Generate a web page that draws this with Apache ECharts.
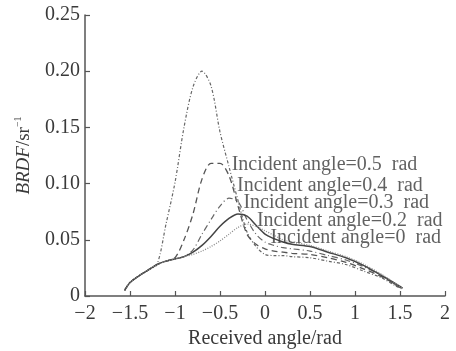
<!DOCTYPE html>
<html>
<head>
<meta charset="utf-8">
<script src="https://cdn.jsdelivr.net/npm/echarts@6/dist/echarts.min.js"></script>
<style>
  html, body { margin: 0; padding: 0; background: #fff; }
  #chart { width: 456px; height: 351px; }
</style>
</head>
<body>
<div id="chart"></div>
<script>
// received angle (rad) for every sampled point
const angles = [-1.56, -1.5, -1.4, -1.3, -1.2, -1.1, -1.0, -0.9, -0.8, -0.7, -0.6, -0.5, -0.4, -0.3, -0.2, -0.1, 0, 0.1, 0.2, 0.3, 0.5, 0.7, 0.9, 1.1, 1.3, 1.45, 1.53];

// BRDF values per incident angle
const brdf05 = [0.005, 0.012, 0.018, 0.023, 0.028, 0.064, 0.101, 0.150, 0.186, 0.200, 0.187, 0.146, 0.115, 0.085, 0.057, 0.044, 0.037, 0.036, 0.036, 0.035, 0.034, 0.031, 0.028, 0.022, 0.016, 0.009, 0.006];
const brdf04 = [0.005, 0.012, 0.018, 0.023, 0.028, 0.031, 0.034, 0.050, 0.073, 0.104, 0.118, 0.118, 0.107, 0.080, 0.055, 0.046, 0.042, 0.040, 0.039, 0.038, 0.037, 0.034, 0.030, 0.024, 0.017, 0.010, 0.006];
const brdf03 = [0.005, 0.012, 0.018, 0.023, 0.028, 0.031, 0.033, 0.035, 0.041, 0.055, 0.068, 0.080, 0.087, 0.084, 0.068, 0.055, 0.048, 0.045, 0.043, 0.042, 0.040, 0.036, 0.032, 0.026, 0.018, 0.010, 0.007];
const brdf02 = [0.005, 0.012, 0.018, 0.023, 0.028, 0.031, 0.033, 0.035, 0.039, 0.045, 0.053, 0.062, 0.069, 0.073, 0.071, 0.063, 0.055, 0.051, 0.048, 0.046, 0.044, 0.039, 0.034, 0.027, 0.018, 0.011, 0.007];
const brdf00 = [0.005, 0.012, 0.018, 0.023, 0.028, 0.031, 0.033, 0.035, 0.037, 0.040, 0.044, 0.049, 0.055, 0.061, 0.064, 0.062, 0.058, 0.054, 0.050, 0.048, 0.045, 0.040, 0.035, 0.028, 0.019, 0.011, 0.007];

// curve annotations, anchored at their left edge
const labelTexts = ['Incident angle=0.5  rad', 'Incident angle=0.4  rad', 'Incident angle=0.3  rad', 'Incident angle=0.2  rad', 'Incident angle=0  rad'];
const labelX = [-0.37, -0.31, -0.24, -0.09, 0.06];
const labelY = [0.117, 0.098, 0.083, 0.067, 0.052];

const xTickLabels = ['−2', '−1.5', '−1', '−0.5', '0', '0.5', '1', '1.5', '2'];

const font = '"Liberation Serif", "DejaVu Serif", serif';
const ink = '#3a3a3a';

const pairs = (ys) => angles.map((a, i) => [a, ys[i]]);

const lineSeries = (ys, color, type, width) => ({
  type: 'line',
  data: pairs(ys),
  smooth: 0.3,
  showSymbol: false,
  lineStyle: { color: color, type: type, width: width },
  z: 3
});

const chart = echarts.init(document.getElementById('chart'));
chart.setOption({
  animation: false,
  backgroundColor: '#fff',
  grid: { left: 85, right: 11, top: 15, bottom: 55, outerBoundsMode: 'none', containLabel: false },
  xAxis: {
    type: 'value',
    min: -2,
    max: 2,
    interval: 0.5,
    name: 'Received angle/rad',
    nameLocation: 'middle',
    nameGap: 32,
    nameTextStyle: { fontFamily: font, fontSize: 20, color: ink },
    axisLine: { onZero: false, lineStyle: { color: '#555', width: 1.5 } },
    axisTick: { inside: true, length: 5, lineStyle: { color: '#555', width: 1.2 } },
    axisLabel: {
      fontFamily: font, fontSize: 20, color: ink, margin: 8,
      formatter: (v) => xTickLabels[Math.round((v + 2) / 0.5)]
    },
    splitLine: { show: false }
  },
  yAxis: {
    type: 'value',
    min: 0,
    max: 0.25,
    interval: 0.05,
    name: '{it|BRDF}{n|/sr}{sup|−1}',
    nameLocation: 'middle',
    nameRotate: 90,
    nameGap: 50,
    nameTextStyle: {
      color: ink,
      rich: {
        it: { fontFamily: font, fontSize: 19, fontStyle: 'italic', color: ink },
        n: { fontFamily: font, fontSize: 19, color: ink },
        sup: { fontFamily: font, fontSize: 10, color: ink, verticalAlign: 'top', padding: [0, 0, 12, 0] }
      }
    },
    axisLine: { show: true, onZero: false, lineStyle: { color: '#555', width: 1.5 } },
    axisTick: { show: true, inside: true, length: 5, lineStyle: { color: '#555', width: 1.2 } },
    axisLabel: {
      fontFamily: font, fontSize: 20, color: ink, margin: 5,
      formatter: (v) => (v === 0 ? '0' : v.toFixed(2))
    },
    splitLine: { show: false }
  },
  series: [
    lineSeries(brdf05, '#666', [3, 2, 1, 2], 1.2),
    lineSeries(brdf04, '#555', [6, 4], 1.3),
    lineSeries(brdf03, '#666', [6, 3, 1, 3], 1.2),
    lineSeries(brdf02, '#444', 'solid', 1.5),
    lineSeries(brdf00, '#888', [1, 1.5], 1.3),
    {
      type: 'scatter',
      symbolSize: 0,
      silent: true,
      z: 5,
      data: labelX.map((x, i) => ({ value: [x, labelY[i]], name: labelTexts[i] })),
      label: {
        show: true,
        position: 'right',
        distance: 0,
        formatter: (p) => p.name,
        fontFamily: font,
        fontSize: 20,
        color: ink
      }
    }
  ]
});
</script>
</body>
</html>
